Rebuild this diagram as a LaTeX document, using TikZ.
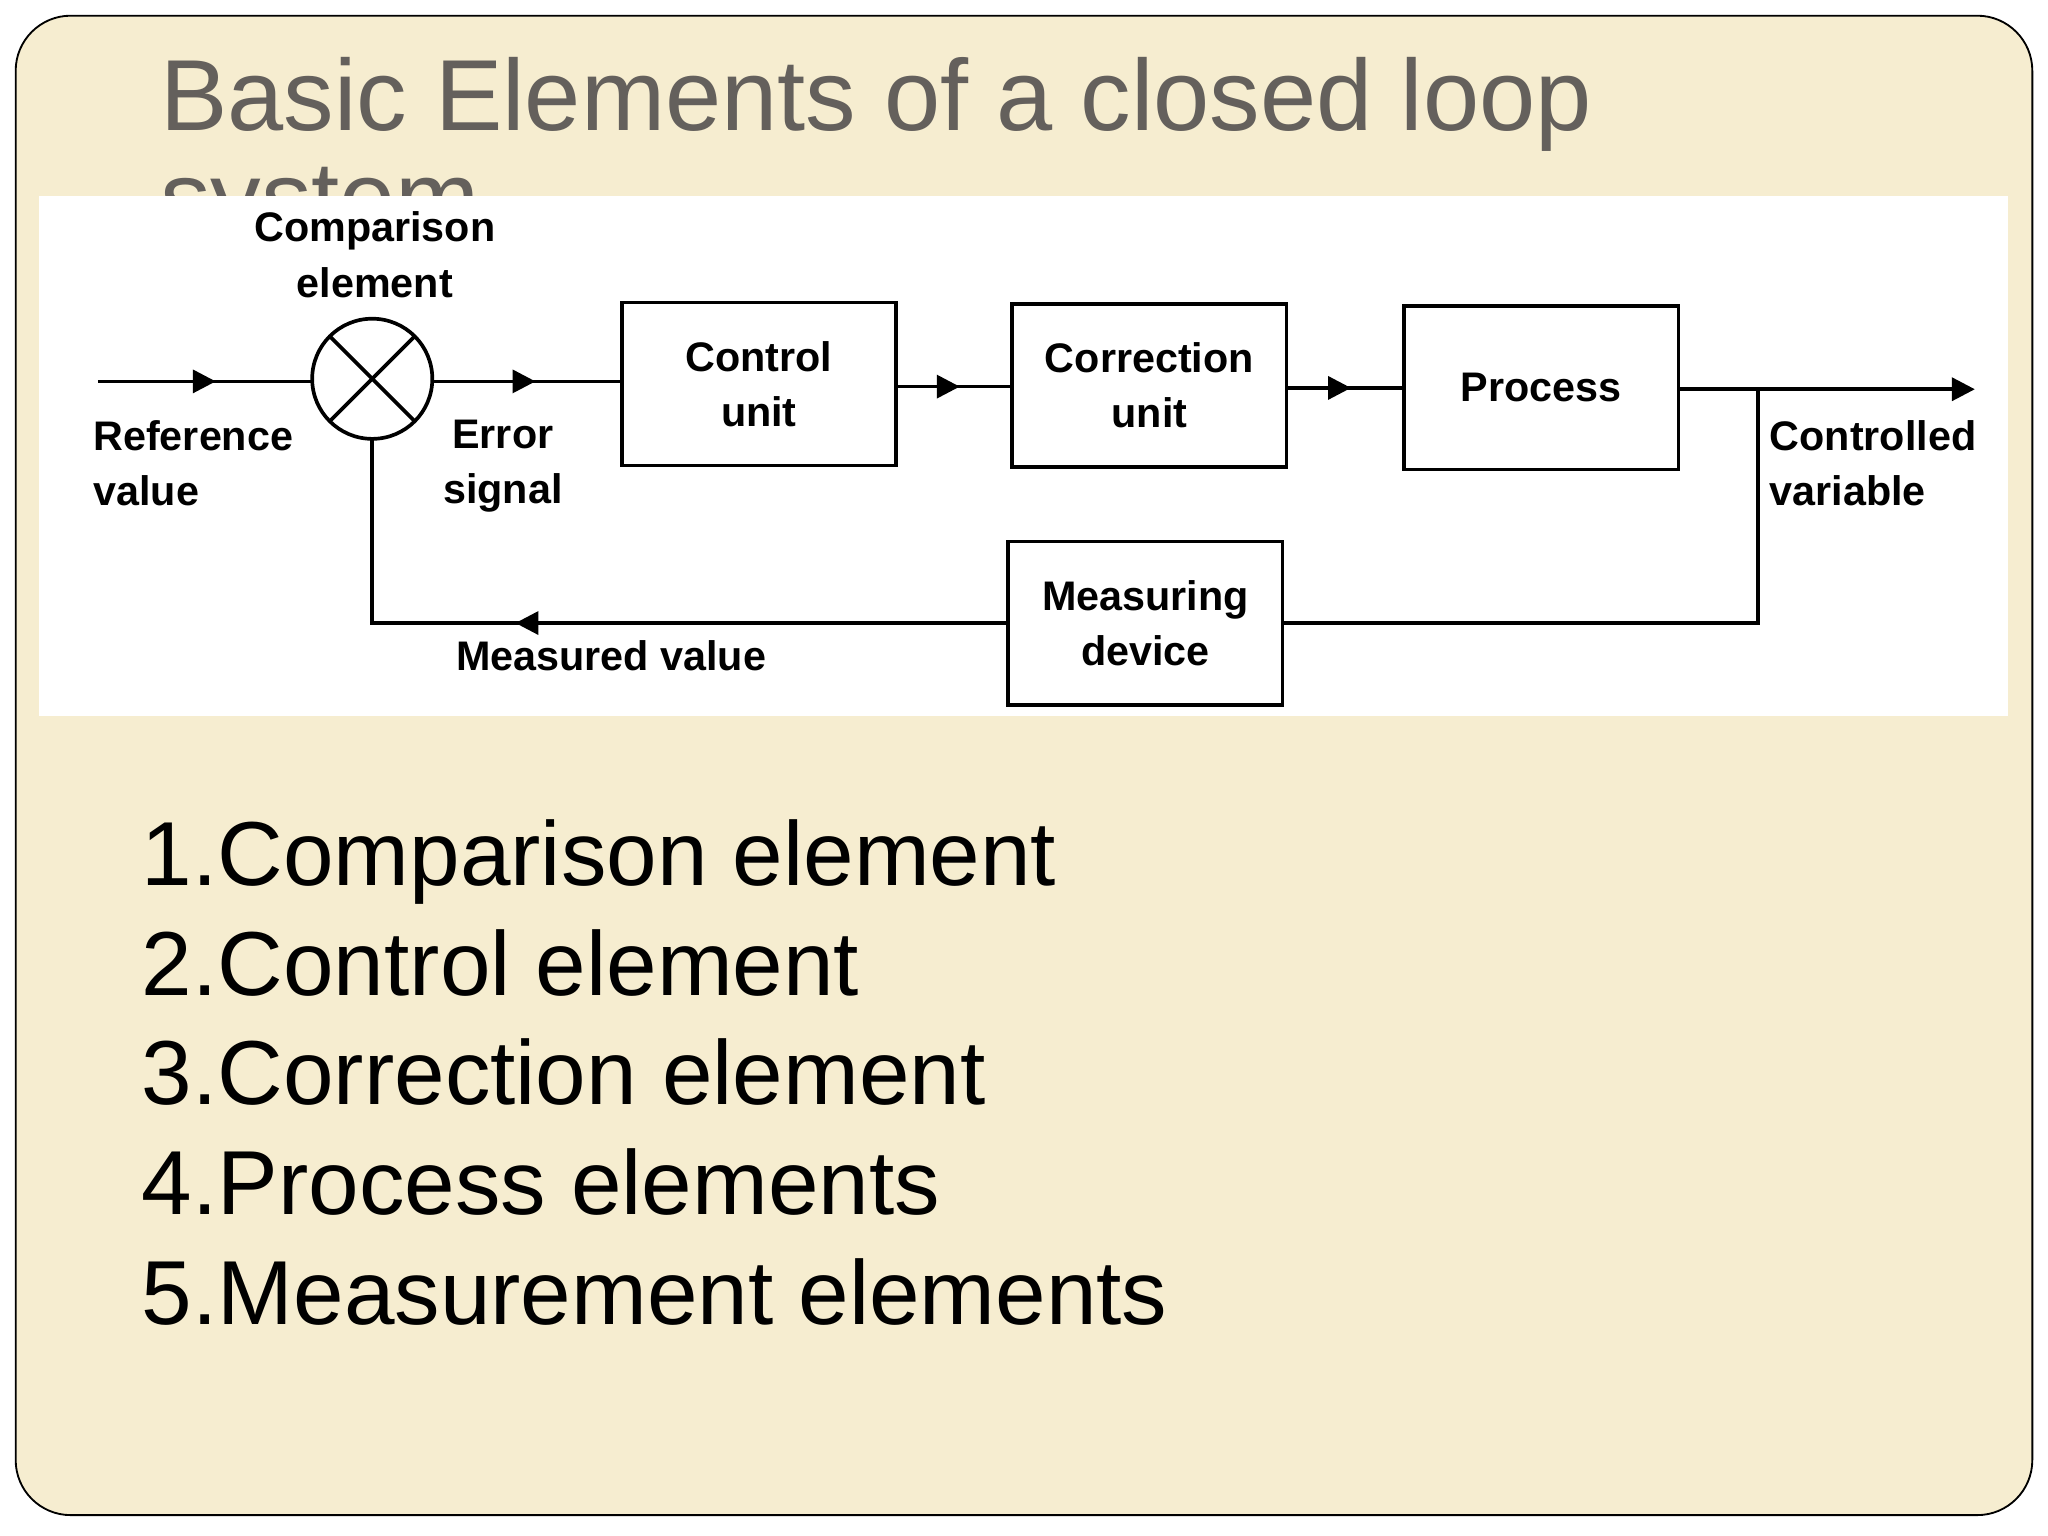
\documentclass[tikz,border=0pt]{standalone}
\usepackage{fontspec}
\setmainfont{Liberation Sans}
\usetikzlibrary{positioning,decorations.markings,arrows.meta}
\definecolor{slidebg}{RGB}{246,237,208}
\definecolor{titlegray}{RGB}{100,96,92}
\tikzset{
  blk/.style={draw, thick, minimum width=2.1cm, minimum height=1.25cm, align=center, font=\bfseries\fontsize{9}{12}\selectfont},
  lbl/.style={align=left, font=\bfseries\fontsize{9}{12}\selectfont},
  sig/.style={thick},
  mid/.style={postaction={decorate}, decoration={markings, mark=at position #1 with {\arrow{Triangle[length=5pt,width=5pt]}}}},
}
\begin{document}
\begin{tikzpicture}[x=0.1mm,y=-0.1mm]
\useasboundingbox (0,0) rectangle (1568,1176);
% Hintergrund
\draw[fill=slidebg, rounded corners=12pt, thin] (12,12) rectangle (1556,1160);
\node[anchor=base west, text=titlegray, font=\fontsize{22}{26}\selectfont, inner sep=0] (title) at (122,100) {Basic Elements of a closed loop};
\node[anchor=base west, text=titlegray, font=\fontsize{22}{26}\selectfont, inner sep=0] (title2) at (122,178) {system};
\fill[white] (30,150) rectangle (1537,548);

% Blockschaltbild
\draw[thick] (285,290) circle (46);
\draw[thick] (285,290) ++(-32.5,-32.5) -- ++(65,65);
\draw[thick] (285,290) ++(32.5,-32.5) -- ++(-65,65);
\node[blk] (ctrl) at (581,294) {Control\\unit};
\node[blk] (corr) at (880,295) {Correction\\unit};
\node[blk] (proc) at (1180,297) {Process};
\node[blk] (meas) at (877,477) {Measuring\\device};
\coordinate (in) at (75,292);
\coordinate (out) at (1512,298);
\coordinate (tap) at (1346,298);

\draw[sig, mid=0.55] (in) -- (239,292);
\draw[sig, mid=0.55] (331,292) -- (ctrl.west |- 0,292);
\draw[sig, mid=0.55] (ctrl.east |- 0,296) -- (corr.west |- 0,296);
\draw[sig, mid=0.55] (corr.east |- 0,297) -- (proc.west |- 0,297);
\draw[sig, -{Triangle[length=5pt,width=5pt]}] (proc.east |- 0,298) -- (out);
\draw[sig] (tap) |- (meas.east);
\draw[sig, mid=0.6] (meas.west) -| (285,336);

\node[lbl, align=center] (lcmp) at (287,195) {Comparison\\element};
\node[lbl] (lref) at (148,355) {Reference\\value};
\node[lbl, align=center] (lerr) at (385,357) {Error\\signal};
\node[lbl] (lout) at (1434,355) {Controlled\\variable};
\node[lbl] (lmeas) at (468,502) {Measured value};

% Liste
\foreach \txt [count=\i] in {1.Comparison element, 2.Control element, 3.Correction element, 4.Process elements, 5.Measurement elements}
  \node[anchor=base west, inner sep=0, font=\fontsize{19.8}{23}\selectfont] (item\i) at (108,{678+84*(\i-1)}) {\txt};
\end{tikzpicture}
\end{document}
